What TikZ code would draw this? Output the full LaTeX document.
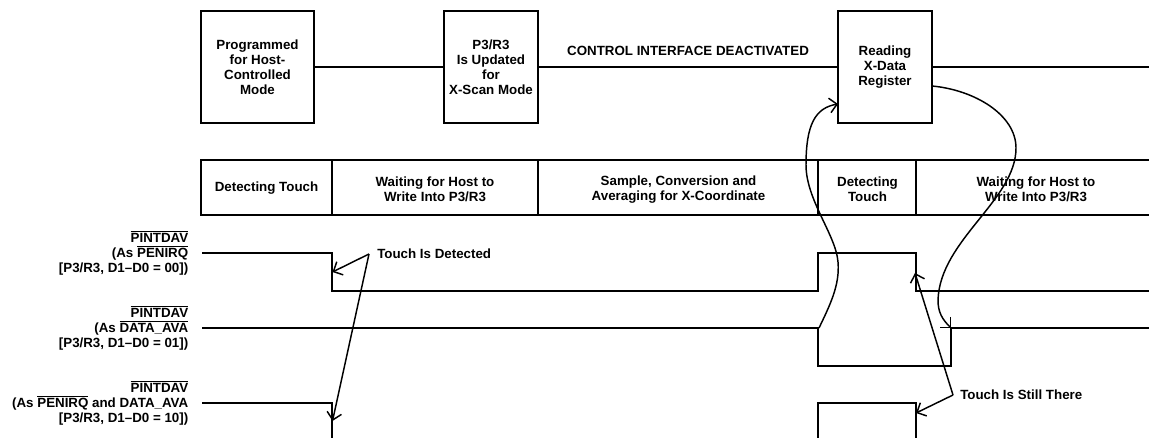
\documentclass[tikz,border=0pt]{standalone}
\usepackage{fontspec}
\setmainfont{Liberation Sans}
\usetikzlibrary{arrows.meta}
\newcommand{\ovl}[1]{\ensuremath{\overline{\mbox{#1}}}}
\begin{document}
\begin{tikzpicture}[x=0.75pt,y=-0.75pt,
  every node/.style={font=\bfseries\fontsize{10}{11.25}\selectfont, align=center, inner sep=0pt},
  line/.style={line width=1.4pt},
  box/.style={draw, line width=1.4pt, minimum height=84pt},
  arr/.style={line width=1.1pt, -{Straight Barb[length=5.5pt,width=11pt]}},
  lbl/.style={anchor=east, align=right},
]
\useasboundingbox (0,0) rectangle (1149,438);

% top status boxes
\node[box, minimum width=84.75pt] (b1) at (257.5,67) {Programmed\\for Host-\\Controlled\\Mode};
\node[box, minimum width=70.5pt] (b2) at (491,67) {P3/R3\\Is Updated\\for\\X-Scan Mode};
\node[box, minimum width=70.5pt] (b3) at (885,67) {Reading\\X-Data\\Register};
\coordinate (re) at (1149,67);
\draw[line] (b1.east) -- (b2.west) (b2.east) -- (b3.west) (b3.east) -- (re);
\node (ctl) at (688,51) {CONTROL INTERFACE DEACTIVATED};

% activity row
\draw[line] (1149,160) -| (201,215) -- (1149,215);
\foreach \x in {332,538,818,916} \draw[line] (\x,160) -- (\x,215);
\node (c1) at (266.5,188) {Detecting Touch};
\node (c2) at (435,189.5) {Waiting for Host to\\Write Into P3/R3};
\node (c3) at (678.5,189.5) {Sample, Conversion and\\Averaging for X-Coordinate};
\node (c4) at (867.5,189.5) {Detecting\\Touch};
\node (c5) at (1036,189.5) {Waiting for Host to\\Write Into P3/R3};

% signal labels
\node[lbl] (l1) at (188.5,253) {\ovl{PINTDAV}\\(As \ovl{PENIRQ}\\{[}P3/R3, D1–D0 = 00])};
\node[lbl] (l2) at (188.5,328) {\ovl{PINTDAV}\\(As \ovl{DATA\_AVA}\\{[}P3/R3, D1–D0 = 01])};
\node[lbl] (l3) at (188.5,403) {\ovl{PINTDAV}\\(As \ovl{PENIRQ} and DATA\_AVA\\{[}P3/R3, D1–D0 = 10])};

% waveforms
\draw[line] (202,253) -- (332,253) -- (332,291) -- (818,291) -- (818,253) -- (916,253) -- (916,291) -- (1149,291);
\draw[line] (202,328) -- (818,328) -- (818,366) -- (951,366) -- (951,328) -- (1149,328);
\draw[line] (202,403) -- (332,403) -- (332,438);
\draw[line] (818,438) -- (818,403) -- (916,403) -- (916,438);

% annotations
\node[anchor=west, inner xsep=6pt] (tdt) at (369,254) {Touch Is Detected};
\coordinate (td1) at (332.5,272);
\coordinate (td2) at (332.5,421);
\draw[arr] (tdt.west) -- (td1);
\draw[arr] (tdt.west) -- (td2);

\node[anchor=west, inner xsep=5.25pt] (tst) at (953,395) {Touch Is Still There};
\coordinate (ts1) at (915,273);
\coordinate (ts2) at (916,413);
\draw[arr] (tst.west) -- (ts1);
\draw[arr] (tst.west) -- (ts2);

% curved connectors
\coordinate (k1s) at (819,328);
\coordinate (k1e) at (838,104);
\draw[arr] (k1s) .. controls (830,305) and (840,285) .. (838,262)
  .. controls (836,235) and (806,200) .. (806,165)
  .. controls (806,125) and (815,108) .. (k1e);
\coordinate (k2s) at (932,86);
\coordinate (k2e) at (951,328);
\draw[arr] (k2s) .. controls (975,90) and (1016,115) .. (1016,148)
  .. controls (1016,200) and (940,240) .. (938,300)
  .. controls (938,312) and (942,319) .. (k2e);
\end{tikzpicture}
\end{document}
